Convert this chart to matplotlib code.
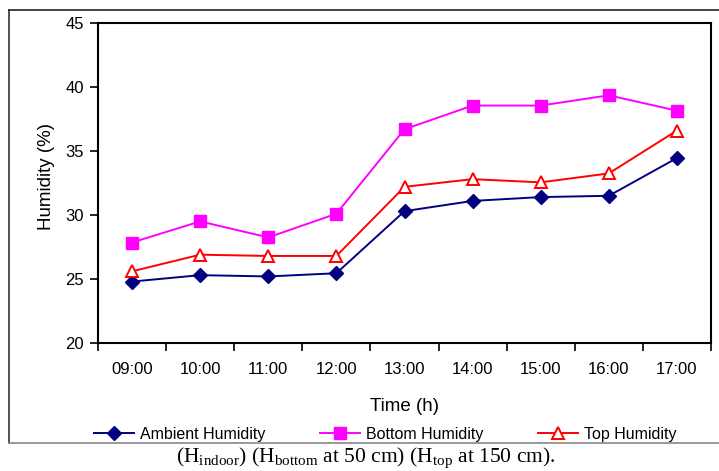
import matplotlib.pyplot as plt
import matplotlib as mpl
from matplotlib.lines import Line2D

mpl.rcParams['font.family'] = 'Liberation Sans'
mpl.rcParams['axes.linewidth'] = 1.5

# Data
times = ['09:00', '10:00', '11:00', '12:00', '13:00', '14:00', '15:00', '16:00', '17:00']
ambient = [24.8, 25.3, 25.2, 25.45, 30.3, 31.1, 31.4, 31.5, 34.45]
bottom = [27.85, 29.5, 28.25, 30.1, 36.7, 38.55, 38.55, 39.35, 38.15]
top = [25.6, 26.9, 26.8, 26.8, 32.2, 32.8, 32.55, 33.25, 36.6]

fig = plt.figure(figsize=(7.19, 4.71), dpi=100)
W, H = 719, 471
ax = fig.add_axes([98 / W, 1 - 343 / H, (711 - 98) / W, (343 - 23) / H])

x = list(range(len(times)))
ax.plot(x, ambient, color='#000080', marker='D', markersize=7, linewidth=1.4,
        label='Ambient Humidity')
ax.plot(x, bottom, color='#ff00ff', marker='s', markersize=8, linewidth=1.4,
        label='Bottom Humidity')
ax.plot(x, top, color='#ff0000', marker='^', markersize=9, markerfacecolor='white',
        markeredgewidth=1.4, linewidth=1.4, label='Top Humidity')

ax.set_xlim(-0.5, len(times) - 0.5)
ax.set_ylim(20, 45)
ax.set_yticks([20, 25, 30, 35, 40, 45])
ax.set_xticks(x)
ax.set_xticklabels(times)
ax.set_xticks([i - 0.5 for i in range(len(times) + 1)], minor=True)
ax.tick_params(axis='x', which='major', length=0, pad=14, labelsize=12)
ax.tick_params(axis='x', which='minor', length=6, width=1.2, direction='out')
ax.tick_params(axis='y', length=6, width=1.2, labelsize=12, pad=4)

ax.set_ylabel('Humidity (%)', fontsize=13.5)
ax.yaxis.set_label_coords(-0.07, 0.52)
ax.set_xlabel('Time (h)', fontsize=13.5, labelpad=15)

ax.legend(loc='center', bbox_to_anchor=(385 / W, (H - 434) / H), bbox_transform=fig.transFigure,
          ncol=3, frameon=False, fontsize=11.5, handlelength=2.5, columnspacing=3.4,
          handletextpad=0.4)

# outer frame (left, top, bottom only)
fig.add_artist(Line2D([9 / W, 9 / W], [1 - 10 / H, 1 - 443 / H], color='#333333', lw=1.2))
fig.add_artist(Line2D([9 / W, 1], [1 - 10 / H, 1 - 10 / H], color='#222222', lw=1.2))
fig.add_artist(Line2D([9 / W, 1], [1 - 443 / H, 1 - 443 / H], color='#888888', lw=1.2))

fig.text(366 / W, 1 - 462 / H,
         r'(H$_{\mathregular{indoor}}$) (H$_{\mathregular{bottom}}$ at 50 cm) (H$_{\mathregular{top}}$ at 150 cm).',
         fontsize=15.5, family='Liberation Serif', ha='center', va='baseline')

fig.savefig('out.png', dpi=100)
